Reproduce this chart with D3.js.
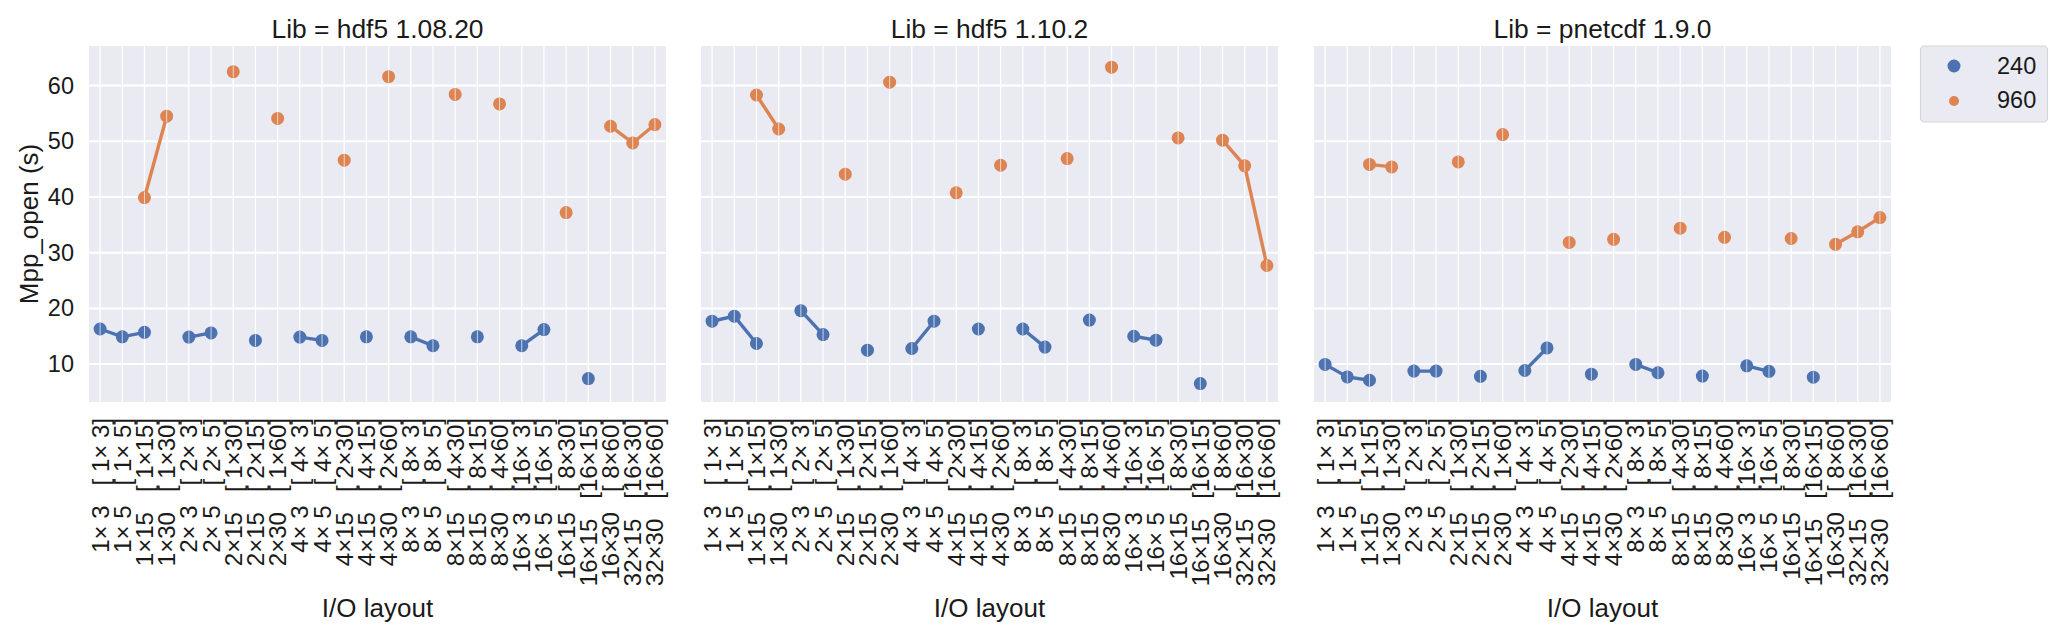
<!DOCTYPE html>
<html>
<head>
<meta charset="utf-8">
<script src="https://cdn.jsdelivr.net/npm/d3@7"></script>
<style>
    body { margin: 0; background: white; }
    text { font-family: "Liberation Sans", Arial, sans-serif; fill: #1a1a1a; }
</style>
</head>
<body>
<div id="chart"></div>
<script>

// I/O layout categories, first part and the bracketed part of each tick label
const layouts = ["1× 3", "1× 5", "1×15", "1×30", "2× 3", "2× 5", "2×15", "2×15", "2×30", "4× 3", "4× 5", "4×15", "4×15",
    "4×30", "8× 3", "8× 5", "8×15", "8×15", "8×30", "16× 3", "16× 5", "16×15", "16×15", "16×30", "32×15", "32×30"]
const altLayouts = ["[ 1× 3]", "[ 1× 5]", "[ 1×15]", "[ 1×30]", "[ 2× 3]", "[ 2× 5]", "[ 1×30]", "[ 2×15]", "[ 1×60]",
    "[ 4× 3]", "[ 4× 5]", "[ 2×30]", "[ 4×15]", "[ 2×60]", "[ 8× 3]", "[ 8× 5]", "[ 4×30]", "[ 8×15]", "[ 4×60]",
    "[16× 3]", "[16× 5]", "[ 8×30]", "[16×15]", "[ 8×60]", "[16×30]", "[16×60]"]

const libs = ["hdf5 1.08.20", "hdf5 1.10.2", "pnetcdf 1.9.0"]
const cores = ["240", "960"]

// Mpp_open (s), null where there is no run
const hdf5_108_240 = [16.3, 14.9, 15.7, null, 14.85, 15.6, null, 14.25, null, 14.85, 14.25, null, 14.9, null, 14.9, 13.3,
    null, 14.9, null, 13.3, 16.2, null, 7.4, null, null, null]
const hdf5_108_960 = [null, null, 39.9, 54.5, null, null, 62.5, null, 54.1, null, null, 46.6, null, 61.6, null, null,
    58.4, null, 56.7, null, null, 37.2, null, 52.7, 49.7, 53.0]
const hdf5_110_240 = [17.7, 18.6, 13.7, null, 19.6, 15.3, null, 12.5, null, 12.8, 17.7, null, 16.3, null, 16.3, 13.05,
    null, 17.9, null, 15.0, 14.3, null, 6.5, null, null, null]
const hdf5_110_960 = [null, null, 58.3, 52.2, null, null, 44.1, null, 60.6, null, null, 40.75, null, 45.7, null, null,
    46.9, null, 63.3, null, null, 50.6, null, 50.2, 45.6, 27.7]
const pnetcdf_240 = [9.95, 7.7, 7.1, null, 8.75, 8.75, null, 7.8, null, 8.85, 12.9, null, 8.2, null, 9.95, 8.45,
    null, 7.85, null, 9.7, 8.7, null, 7.65, null, null, null]
const pnetcdf_960 = [null, null, 45.85, 45.4, null, null, 46.3, null, 51.2, null, null, 31.85, null, 32.4, null, null,
    34.4, null, 32.75, null, null, 32.55, null, 31.5, 33.75, 36.3]

const yTicks = [10, 20, 30, 40, 50, 60]
const yLimits = [3.2, 67.1]

const series = [
    [hdf5_108_240, hdf5_108_960],
    [hdf5_110_240, hdf5_110_960],
    [pnetcdf_240, pnetcdf_960]
]

const colors = ["#4c72b0", "#dd8452"]

const W = 2067, H = 641
const panel = { top: 46, bottom: 402, width: 577, lefts: [89, 701, 1314] }

const svg = d3.select('#chart').append('svg')
    .attr('width', W)
    .attr('height', H)

const y = d3.scaleLinear().domain(yLimits).range([panel.bottom, panel.top])

libs.forEach((lib, p) => {

    const left = panel.lefts[p]
    const x = d3.scalePoint()
        .domain(d3.range(layouts.length))
        .range([left, left + panel.width])
        .padding(0.5)

    const g = svg.append('g')

    g.append('rect')
        .attr('x', left)
        .attr('y', panel.top)
        .attr('width', panel.width)
        .attr('height', panel.bottom - panel.top)
        .attr('fill', '#eaeaf2')

    // grid
    g.selectAll('line.vgrid').data(x.domain()).enter()
        .append('line')
        .attr('x1', d => x(d)).attr('x2', d => x(d))
        .attr('y1', panel.top).attr('y2', panel.bottom)
        .attr('stroke', 'white')
        .attr('stroke-width', 1.3)

    g.selectAll('line.hgrid').data(yTicks).enter()
        .append('line')
        .attr('x1', left).attr('x2', left + panel.width)
        .attr('y1', d => y(d)).attr('y2', d => y(d))
        .attr('stroke', 'white')
        .attr('stroke-width', 2)

    // y tick labels only on the first panel
    if (p === 0) {
        g.selectAll('text.ytick').data(yTicks).enter()
            .append('text')
            .attr('x', left - 15)
            .attr('y', d => y(d))
            .attr('text-anchor', 'end')
            .attr('dominant-baseline', 'central')
            .attr('font-size', 23.5)
            .text(d => d)

        g.append('text')
            .attr('transform', `translate(29,${(panel.top + panel.bottom) / 2}) rotate(-90)`)
            .attr('text-anchor', 'middle')
            .attr('dominant-baseline', 'central')
            .attr('font-size', 26)
            .text('Mpp_open (s)')
    }

    // x tick labels, rotated
    g.selectAll('text.xtick').data(x.domain()).enter()
        .append('text')
        .attr('transform', d => `translate(${x(d)},418) rotate(-90)`)
        .attr('text-anchor', 'end')
        .attr('dominant-baseline', 'central')
        .attr('font-size', 24)
        .style('white-space', 'pre')
        .text(d => layouts[d] + '   ' + altLayouts[d])

    g.append('text')
        .attr('x', left + panel.width / 2)
        .attr('y', 617)
        .attr('text-anchor', 'middle')
        .attr('font-size', 26)
        .text('I/O layout')

    g.append('text')
        .attr('x', left + panel.width / 2)
        .attr('y', 38)
        .attr('text-anchor', 'middle')
        .attr('font-size', 26.4)
        .text('Lib = ' + lib)

    const line = d3.line()
        .defined(d => d != null)
        .x((d, i) => x(i))
        .y(d => y(d))

    series[p].forEach((vals, s) => {
        g.append('path')
            .attr('d', line(vals))
            .attr('fill', 'none')
            .attr('stroke', colors[s])
            .attr('stroke-width', 3.4)

        const pts = vals.map((v, i) => ({ i, v })).filter(d => d.v != null)

        g.selectAll(null).data(pts).enter()
            .append('circle')
            .attr('cx', d => x(d.i))
            .attr('cy', d => y(d.v))
            .attr('r', 6.5)
            .attr('fill', colors[s])

        // thin light line through each marker
        g.selectAll(null).data(pts).enter()
            .append('line')
            .attr('x1', d => x(d.i)).attr('x2', d => x(d.i))
            .attr('y1', d => y(d.v) - 6).attr('y2', d => y(d.v) + 6)
            .attr('stroke', 'white')
            .attr('stroke-opacity', 0.7)
            .attr('stroke-width', 1)
    })
})

// legend
const lg = svg.append('g')

lg.append('rect')
    .attr('x', 1920.5)
    .attr('y', 46)
    .attr('width', 127)
    .attr('height', 76)
    .attr('rx', 4)
    .attr('fill', '#eaeaf2')
    .attr('stroke', '#d6d6d6')
    .attr('stroke-width', 1.2)

cores.forEach((c, i) => {
    lg.append('circle')
        .attr('cx', 1954)
        .attr('cy', 66 + i * 35)
        .attr('r', i === 0 ? 6.5 : 5)
        .attr('fill', colors[i])
    lg.append('text')
        .attr('x', 1997)
        .attr('y', 74 + i * 34)
        .attr('font-size', 23.5)
        .text(c)
})

</script>
</body>
</html>
